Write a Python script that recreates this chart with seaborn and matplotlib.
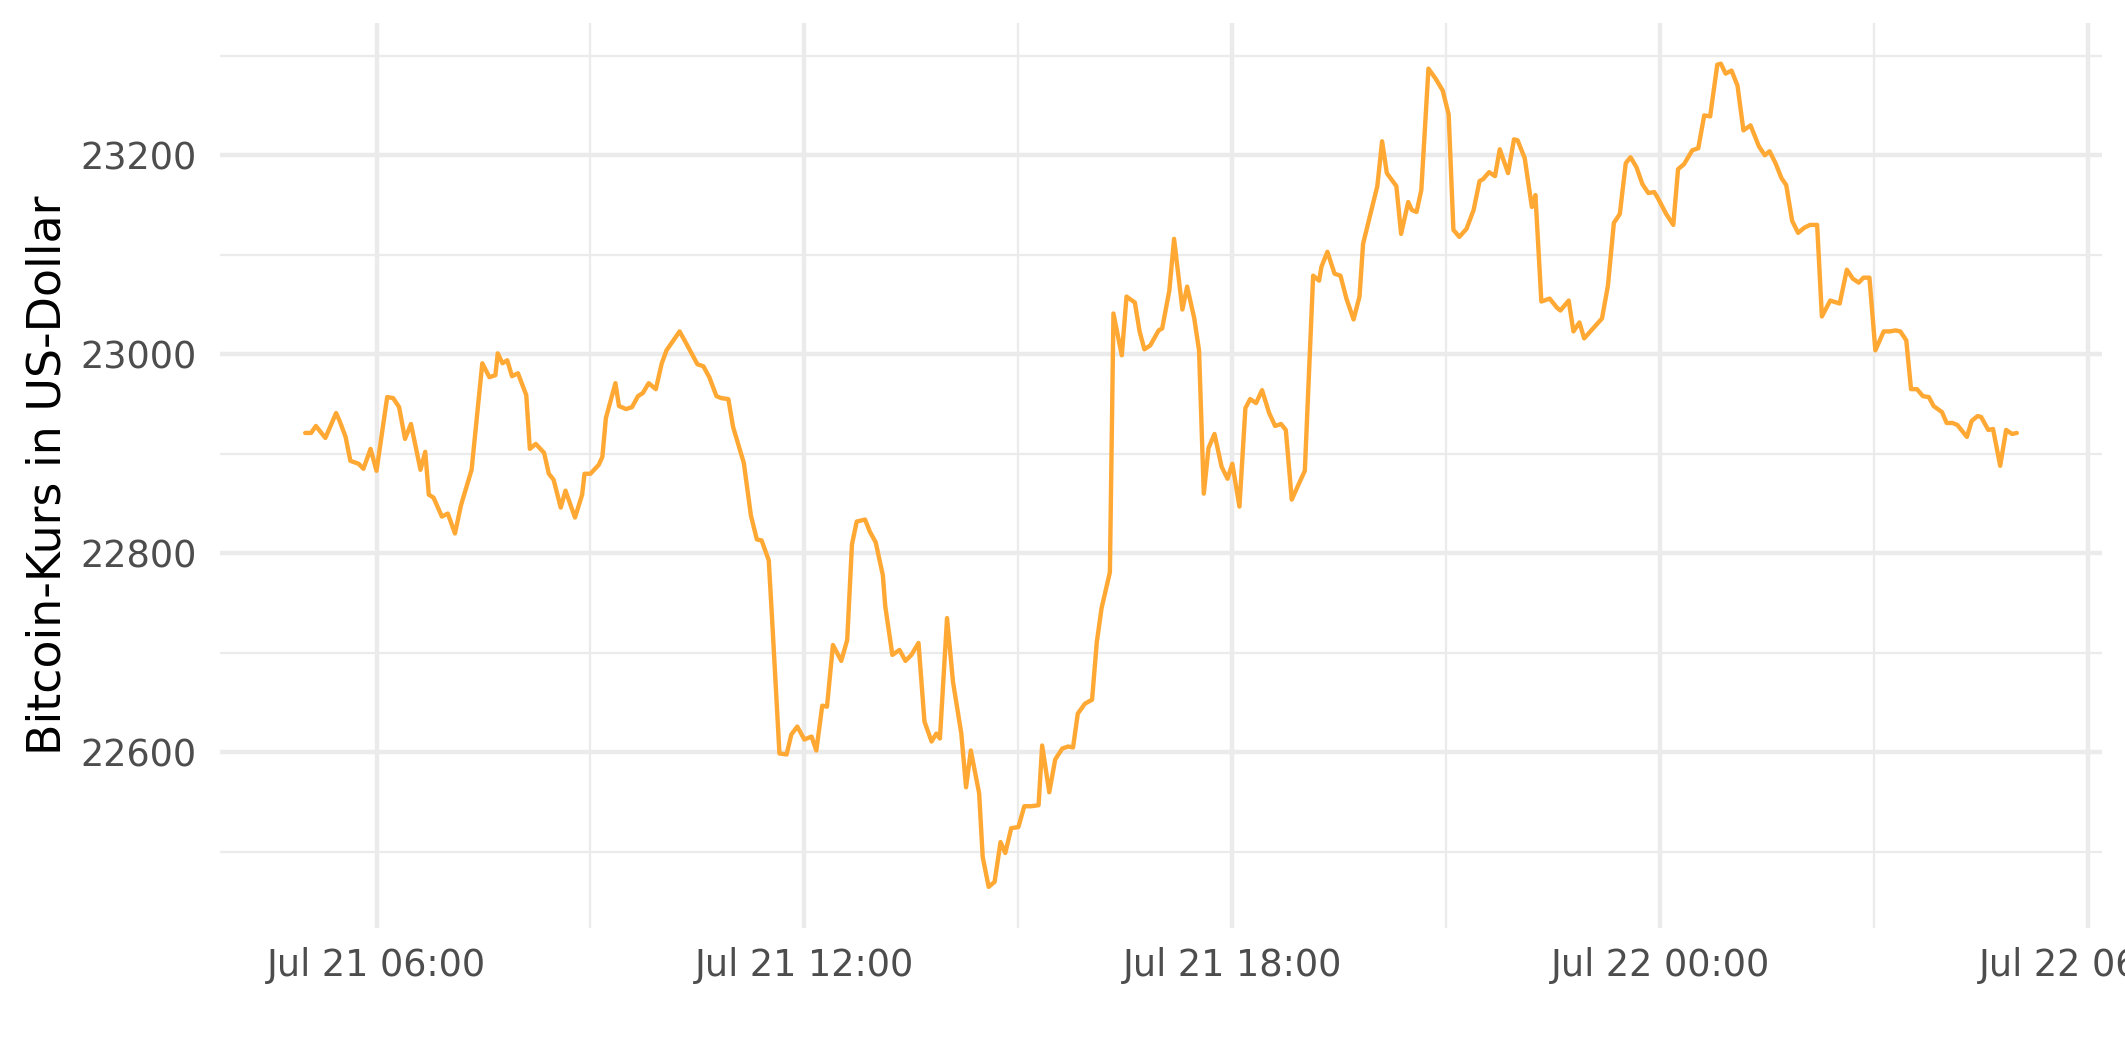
import numpy as np
import pandas as pd
import matplotlib
matplotlib.use("Agg")
import matplotlib.pyplot as plt
import matplotlib.dates as mdates
from matplotlib.ticker import FixedLocator
import seaborn as sns

# ---------------- data ----------------
START = "2022-07-21 05:00"
minutes = [0, 5, 9, 17, 26, 29, 34, 38, 45, 49, 55, 60, 69, 74, 79, 84, 89, 97, 101, 104,
           108, 115, 120, 126, 131, 140, 149, 155, 160, 162, 166, 170, 174, 179, 186, 189, 194, 201, 205, 209,
           215, 219, 227, 233, 235, 240, 247, 250, 253, 261, 264, 270, 275, 280, 284, 289, 295, 300, 304, 315,
           321, 330, 335, 340, 346, 350, 356, 360, 365, 369, 375, 380, 384, 390, 393, 399, 405, 409, 414, 420,
           426, 430, 435, 439, 444, 451, 456, 460, 464, 471, 475, 480, 486, 488, 494, 500, 505, 510, 516, 521,
           527, 531, 534, 540, 545, 552, 556, 560, 567, 570, 575, 580, 585, 589, 594, 600, 605, 611, 617, 620,
           626, 631, 637, 642, 646, 650, 656, 662, 666, 670, 677, 680, 687, 691, 698, 702, 706, 711, 718, 721,
           727, 731, 738, 742, 748, 752, 756, 760, 765, 771, 776, 780, 786, 791, 795, 800, 805, 811, 816, 821,
           825, 830, 836, 841, 848, 853, 855, 860, 866, 871, 876, 882, 887, 890, 896, 902, 906, 910, 918, 922,
           928, 931, 935, 939, 945, 951, 957, 962, 966, 971, 977, 983, 988, 991, 996, 1001, 1005, 1012, 1017, 1020,
           1026, 1032, 1035, 1040, 1047, 1053, 1056, 1063, 1067, 1072, 1076, 1082, 1091, 1096, 1101, 1106, 1111, 1115, 1120, 1125,
           1130, 1135, 1138, 1145, 1151, 1155, 1160, 1167, 1172, 1177, 1182, 1188, 1191, 1195, 1200, 1205, 1210, 1216, 1223, 1228,
           1232, 1237, 1242, 1246, 1251, 1256, 1261, 1266, 1272, 1276, 1283, 1291, 1297, 1302, 1307, 1311, 1316, 1321, 1328, 1333,
           1338, 1342, 1347, 1351, 1356, 1361, 1366, 1370, 1377, 1381, 1386, 1390, 1398, 1402, 1407, 1410, 1416, 1420, 1426, 1431,
           1436, 1440]
prices = [22921, 22921, 22928, 22916, 22941, 22933, 22917, 22893, 22890, 22885, 22905, 22883, 22957, 22956, 22947, 22915, 22930, 22884, 22902, 22859,
          22856, 22837, 22840, 22820, 22848, 22884, 22991, 22977, 22979, 23001, 22991, 22994, 22978, 22981, 22959, 22905, 22910, 22901, 22880, 22874,
          22846, 22863, 22836, 22859, 22880, 22880, 22889, 22897, 22936, 22971, 22948, 22945, 22947, 22958, 22961, 22971, 22965, 22991, 23004, 23023,
          23010, 22990, 22988, 22977, 22958, 22956, 22955, 22927, 22907, 22891, 22838, 22814, 22813, 22793, 22730, 22599, 22598, 22618, 22626, 22613,
          22616, 22602, 22647, 22646, 22708, 22692, 22713, 22809, 22832, 22834, 22822, 22811, 22778, 22747, 22698, 22703, 22692, 22698, 22710, 22631,
          22611, 22619, 22614, 22735, 22671, 22619, 22565, 22602, 22559, 22495, 22465, 22470, 22510, 22499, 22524, 22525, 22546, 22546, 22547, 22607,
          22560, 22593, 22604, 22606, 22605, 22639, 22649, 22653, 22711, 22745, 22781, 23041, 22999, 23058, 23052, 23023, 23005, 23009, 23024, 23026,
          23064, 23116, 23045, 23068, 23036, 23004, 22860, 22906, 22920, 22887, 22875, 22890, 22847, 22946, 22955, 22951, 22964, 22941, 22928, 22930,
          22924, 22854, 22870, 22883, 23079, 23074, 23088, 23103, 23081, 23079, 23056, 23035, 23058, 23111, 23140, 23169, 23214, 23182, 23169, 23121,
          23153, 23145, 23143, 23165, 23287, 23277, 23265, 23241, 23125, 23118, 23126, 23145, 23174, 23176, 23183, 23179, 23206, 23182, 23216, 23215,
          23197, 23148, 23160, 23053, 23056, 23047, 23044, 23054, 23023, 23032, 23016, 23024, 23036, 23069, 23132, 23141, 23192, 23198, 23188, 23171,
          23162, 23163, 23157, 23141, 23130, 23186, 23191, 23205, 23207, 23240, 23239, 23291, 23292, 23282, 23285, 23270, 23225, 23230, 23209, 23200,
          23204, 23192, 23177, 23170, 23134, 23122, 23127, 23130, 23130, 23038, 23054, 23051, 23085, 23076, 23072, 23077, 23077, 23004, 23023, 23023,
          23024, 23023, 23014, 22965, 22965, 22958, 22957, 22948, 22942, 22931, 22931, 22929, 22917, 22933, 22938, 22937, 22924, 22925, 22888, 22924,
          22920, 22921]
y_major = [22600, 22800, 23000, 23200]
y_minor = [22500, 22700, 22900, 23100, 23300]
y_title = "Bitcoin-Kurs in US-Dollar"

LINE_COLOR = "#FFA834"
GRID_COLOR = "#EBEBEB"
TICK_COLOR = "#4D4D4D"

df = pd.DataFrame({
    "time": pd.Timestamp(START) + pd.to_timedelta(minutes, unit="min"),
    "price": prices,
})

# ---------------- figure ----------------
sns.set_theme(style="white")
plt.rcParams["font.family"] = ["DejaVu Sans"]

W, H, DPI = 2125, 1062, 300
fig = plt.figure(figsize=(W / DPI, H / DPI), dpi=DPI, facecolor="white")
left, right, top, bottom = 219.6, 2102.4, 22.5, 928.0
ax = fig.add_axes([left / W, 1 - bottom / H, (right - left) / W, (bottom - top) / H])
ax.set_facecolor("white")

sns.lineplot(data=df, x="time", y="price", ax=ax, color=LINE_COLOR,
             linewidth=1.05, sort=False, estimator=None)

# ggplot-like 5% expansion
t0, t1 = df["time"].min(), df["time"].max()
span = t1 - t0
ax.set_xlim(t0 - 0.05 * span, t1 + 0.05 * span)
p0, p1 = df["price"].min(), df["price"].max()
ax.set_ylim(p0 - 0.05 * (p1 - p0), p1 + 0.05 * (p1 - p0))

ax.xaxis.set_major_locator(mdates.HourLocator(byhour=[0, 6, 12, 18]))
ax.xaxis.set_minor_locator(mdates.HourLocator(byhour=[3, 9, 15, 21]))
ax.xaxis.set_major_formatter(mdates.DateFormatter("%b %d %H:%M"))
ax.yaxis.set_major_locator(FixedLocator(y_major))
ax.yaxis.set_minor_locator(FixedLocator(y_minor))
ax.yaxis.set_major_formatter(matplotlib.ticker.FuncFormatter(lambda v, p: f"{int(v)}"))

ax.set_axisbelow(True)
ax.grid(which="major", color=GRID_COLOR, linewidth=1.07)
ax.grid(which="minor", color=GRID_COLOR, linewidth=0.53)
for s in ax.spines.values():
    s.set_visible(False)

ax.tick_params(which="both", length=0)
ax.tick_params(axis="y", which="major", pad=5.5, labelsize=8.8, labelcolor=TICK_COLOR)
ax.tick_params(axis="x", which="major", pad=4.6, labelsize=8.8, labelcolor=TICK_COLOR)

ax.set_xlabel("")
ax.set_ylabel(y_title, fontsize=11, color="black")
ax.yaxis.label.set_va("baseline")
ax.yaxis.set_label_coords((61 - left) / (right - left), 0.5)

fig.savefig("out.png", dpi=DPI, facecolor="white")
